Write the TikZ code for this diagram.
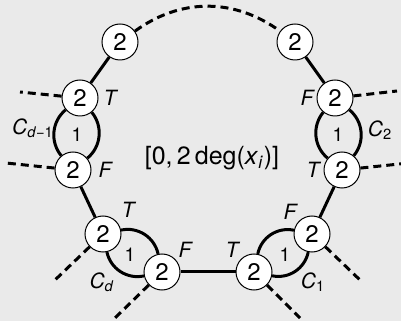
\documentclass[tikz,border=0pt]{standalone}
\usepackage{fontspec}
\setmainfont{TeX Gyre Heros}
\usetikzlibrary{positioning}
\definecolor{bgGray}{RGB}{234,234,234}
\tikzset{
myVar/.style={
	circle,draw=black,fill=white,line width=0.5pt,
	inner sep=0pt,minimum size=18pt,
	font=\fontsize{12}{12}\selectfont
}
, myLit/.style={font=\fontsize{10.5}{10}\selectfont\itshape,inner sep=0pt}
, myName/.style={font=\fontsize{10.5}{10}\selectfont,inner sep=0pt}
, myOne/.style={font=\fontsize{9.5}{10}\selectfont,inner sep=0pt}
% links
, myEdge/.style={line width=1.5pt}
, myPair/.style={line width=1.5pt,bend left=45}
, myStub/.style={line width=1.5pt,dash pattern=on 4pt off 2.5pt}
}

\begin{document}
\begin{tikzpicture}[x=0.5pt,y=0.5pt]
	\fill[bgGray] (0,0) rectangle (401,321);
	\useasboundingbox (0,0) rectangle (401,321);
	% variable nodes
	\node[myVar] (TL) at (120,279) {2};
	\node[myVar] (TR) at (295,279) {2};
	\node[myVar] (LU) at ( 80,223) {2};
	\node[myVar] (RU) at (335,223) {2};
	\node[myVar] (LL) at ( 73,151) {2};
	\node[myVar] (RL) at (342,151) {2};
	\node[myVar] (BLU) at (103,87) {2};
	\node[myVar] (BRU) at (312,87) {2};
	\node[myVar] (BLL) at (162,49) {2};
	\node[myVar] (BRL) at (254,49) {2};
	% loose ends
	\coordinate (LUEnd) at (20,229);
	\coordinate (LLEnd) at (6,158);
	\coordinate (RUEnd) at (397,230);
	\coordinate (RLEnd) at (409,158);
	\coordinate (BLUEnd) at (55,41);
	\coordinate (BRUEnd) at (360,41);
	\coordinate (BLLEnd) at (115,3);
	\coordinate (BRLEnd) at (300,3);
	% solid links
	\draw[myEdge] (TL) -- (LU);
	\draw[myEdge] (LL) -- (BLU);
	\draw[myEdge] (BLL) -- (BRL);
	\draw[myEdge] (BRU) -- (RL);
	\draw[myEdge] (RU) -- (TR);
	% clause pairs
	\draw[myPair] (LU) to (LL);
	\draw[myPair] (LL) to (LU);
	\draw[myPair] (BLU) to (BLL);
	\draw[myPair] (BLL) to (BLU);
	\draw[myPair] (BRL) to (BRU);
	\draw[myPair] (BRU) to (BRL);
	\draw[myPair] (RL) to (RU);
	\draw[myPair] (RU) to (RL);
	% dashed links
	\draw[myStub] (TL) to[bend left=36] (TR);
	\draw[myStub] (LU) -- (LUEnd);
	\draw[myStub] (LL) -- (LLEnd);
	\draw[myStub] (RU) -- (RUEnd);
	\draw[myStub] (RL) -- (RLEnd);
	\draw[myStub] (BLU) -- (BLUEnd);
	\draw[myStub] (BRU) -- (BRUEnd);
	\draw[myStub] (BLL) -- (BLLEnd);
	\draw[myStub] (BRL) -- (BRLEnd);
	% weights
	\node[myOne] (OneL) at ( 77,186) {1};
	\node[myOne] (OneR) at (338,186) {1};
	\node[myOne] (OneBL) at (130,66) {1};
	\node[myOne] (OneBR) at (285,66) {1};
	% literals
	\node[myLit] (TLU) at (110,223) {T};
	\node[myLit] (FLL) at (105,151) {F};
	\node[myLit] (TBLU) at (128,111) {T};
	\node[myLit] (FBLL) at (185,71) {F};
	\node[myLit] (FRU) at (307,223) {F};
	\node[myLit] (TRL) at (313,151) {T};
	\node[myLit] (FBRU) at (290,109) {F};
	\node[myLit] (TBRL) at (232,71) {T};
	% clause names
	\node[myName] (CdOne) at (33,193) {\textit{C}\textsubscript{\textit{d}−1}};
	\node[myName] (Cd) at (102,39) {\textit{C}\textsubscript{\textit{d}}};
	\node[myName] (CTwo) at (380,191) {\textit{C}\textsubscript{2}};
	\node[myName] (COne) at (313,39) {\textit{C}\textsubscript{1}};
	% range
	\node[font=\fontsize{12.5}{12}\selectfont] (Range) at (212,163)
		{[0,\,2\,deg(\textit{x}\textsubscript{\textit{i}})]};
\end{tikzpicture}
\end{document}
